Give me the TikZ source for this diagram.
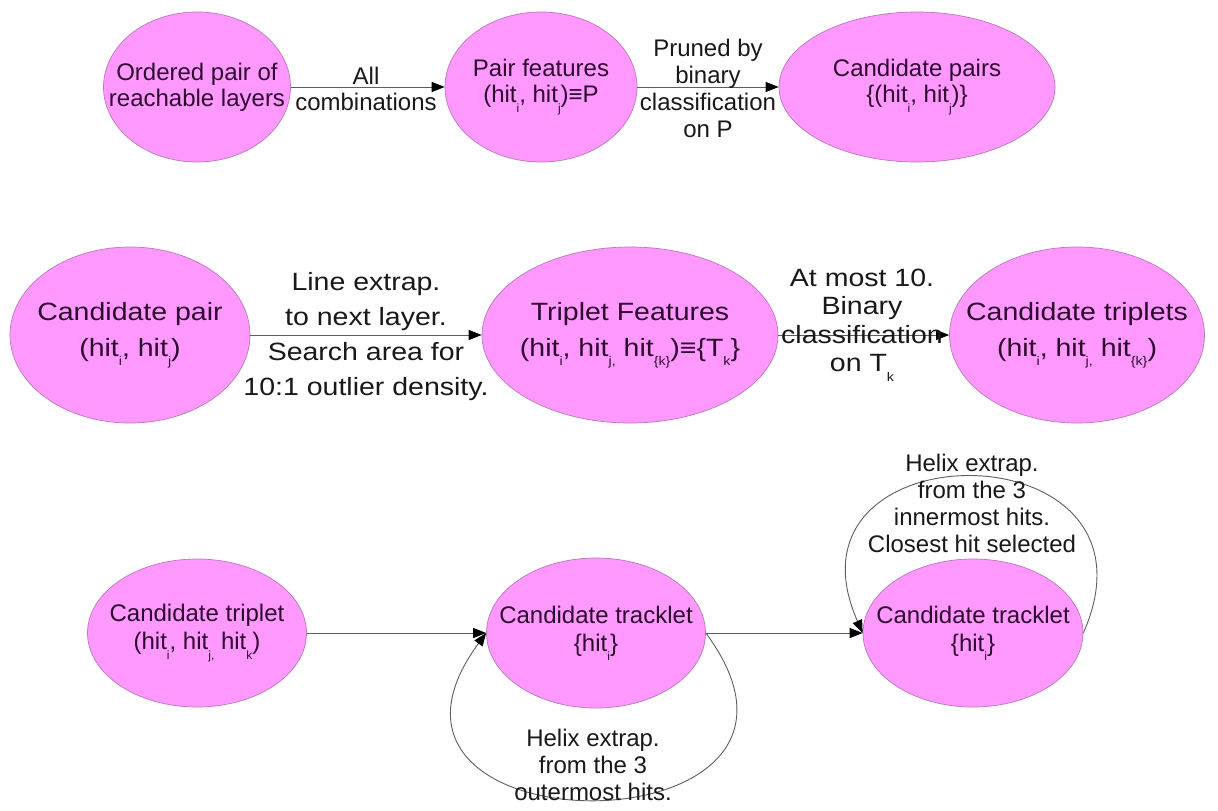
\documentclass[tikz,border=0pt]{standalone}
\usepackage{fontspec}
\setmainfont{Liberation Sans}
\newfontfamily\widesf[FakeStretch=1.14]{Liberation Sans}
\usetikzlibrary{shapes.geometric,arrows.meta}
\definecolor{nodefill}{RGB}{255,153,255}
\definecolor{nodeline}{RGB}{185,120,185}
\definecolor{nodetext}{RGB}{45,10,45}
\definecolor{edgeline}{RGB}{95,95,95}
\definecolor{labeltext}{RGB}{25,25,25}
% small lowered index after "hit"
\newcommand\sbs[1]{\raisebox{-0.38em}{\scalebox{0.5}{#1}}}

\begin{document}
\begin{tikzpicture}[x=1pt,y=-1pt,
  bubble/.style={ellipse, fill=nodefill, draw=nodeline, line width=0.7pt,
    inner sep=0pt},
  ntext/.style={align=center, inner sep=0pt, text=nodetext},
  rowone/.style={font=\fontsize{24}{26}\selectfont},
  rowtwo/.style={font=\widesf\fontsize{25}{36}\selectfont},
  rowthree/.style={font=\fontsize{24}{28}\selectfont},
  flow/.style={draw=edgeline, line width=0.9pt,
    -{Triangle[length=13pt,width=10pt,color=black]}},
  lbl/.style={align=center, inner sep=0pt, text=labeltext}
]
\fill[white, use as bounding box] (0,0) rectangle (1218,811);

% first row: pair building
\node[bubble, minimum width=187pt, minimum height=150pt] (A1) at (197,87) {};
\node[bubble, minimum width=192pt, minimum height=150pt] (A2) at (541,87) {};
\node[bubble, minimum width=276pt, minimum height=150pt] (A3) at (917,87) {};
\node[ntext, rowone] (A1t) at (A1) {Ordered pair of\\reachable layers};
\node[ntext, rowone] (A2t) at (A2) {Pair features\\(hit\sbs{i}, hit\sbs{j})≡P};
\node[ntext, rowone] (A3t) at (A3) {Candidate pairs\\\{(hit\sbs{i}, hit\sbs{j})\}};

\draw[flow] (A1) -- (A2);
\draw[flow] (A2) -- (A3);
\node[lbl, font=\fontsize{24}{26}\selectfont] (LA1) at (366,89) {All\\combinations};
\node[lbl, font=\fontsize{24}{27}\selectfont] (LA2) at (708,88)
  {Pruned by\\binary\\classification\\on P};

% second row: triplet building
\node[bubble, minimum width=240pt, minimum height=176pt] (B1) at (130,335) {};
\node[bubble, minimum width=296pt, minimum height=176pt] (B2) at (630,335) {};
\node[bubble, minimum width=255pt, minimum height=176pt] (B3) at (1077,335) {};
\node[ntext, rowtwo] (B1t) at (B1) {Candidate pair\\(hit\sbs{i}, hit\sbs{j})};
\node[ntext, rowtwo] (B2t) at (B2)
  {Triplet Features\\(hit\sbs{i}, hit\sbs{j,} hit\sbs{\{k\}})≡\{T\sbs{k}\}};
\node[ntext, rowtwo] (B3t) at (B3)
  {Candidate triplets\\(hit\sbs{i}, hit\sbs{j,} hit\sbs{\{k\}})};

\draw[flow] (B1) -- (B2);
\draw[flow] (B2) -- (B3);
\node[lbl, font=\widesf\fontsize{25}{35}\selectfont] (LB1) at (366,337)
  {Line extrap.\\to next layer.\\Search area for\\10:1 outlier density.};
\node[lbl, font=\widesf\fontsize{25}{28.5}\selectfont] (LB2) at (862,325)
  {At most 10.\\Binary\\classification\\on T\sbs{k}};

% third row: tracklet growing
\node[bubble, minimum width=219pt, minimum height=148pt] (C1) at (197,633) {};
\node[bubble, minimum width=219pt, minimum height=150pt] (C2) at (596,633) {};
\node[bubble, minimum width=220pt, minimum height=148pt] (C3) at (973,633) {};
\node[ntext, rowthree] (C1t) at (C1)
  {Candidate triplet\\(hit\sbs{i}, hit\sbs{j,} hit\sbs{k})};
\node[ntext, rowthree] (C2t) at (C2) {Candidate tracklet\\\{hit\sbs{i}\}};
\node[ntext, rowthree] (C3t) at (C3) {Candidate tracklet\\\{hit\sbs{i}\}};

\draw[flow] (C1) -- (C2);
\draw[flow] (C2) -- (C3);
\draw[flow] (C2.east) .. controls (870,855) and (323,855) .. (C2.west);
\draw[flow] (C3.east) .. controls (1175,425) and (771,425) .. (C3.west);

\node[lbl, font=\fontsize{24}{27}\selectfont] (LC2) at (593,765)
  {Helix extrap.\\from the 3\\outermost hits.};
\node[lbl, font=\fontsize{24}{27}\selectfont] (LC3) at (972,503)
  {Helix extrap.\\from the 3\\innermost hits.\\Closest hit selected};
\end{tikzpicture}
\end{document}
